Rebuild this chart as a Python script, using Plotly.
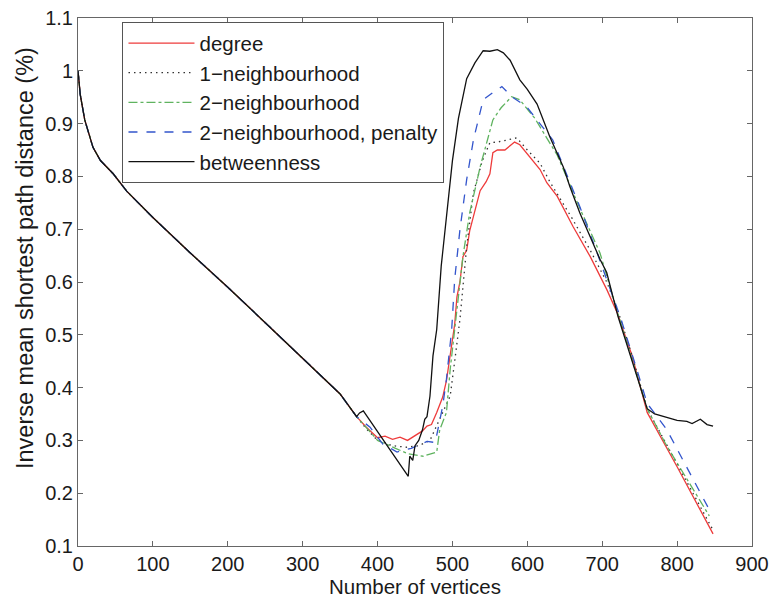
import plotly.graph_objects as go

# ---- data ----
deg_x = [0, 3, 9, 20, 30, 47, 65, 100, 150, 200, 250, 300, 330, 340, 350, 372, 385, 400, 410, 420, 430, 440, 452, 460, 466, 472, 479, 487, 492, 499, 503, 506, 510, 514, 519, 523, 530, 537, 545, 550, 554, 560, 570, 583, 590, 603, 617, 626, 640, 661, 684, 706, 720, 740, 760, 800, 848]
deg_y = [1.0, 0.955, 0.907, 0.855, 0.83, 0.805, 0.772, 0.722, 0.655, 0.59, 0.523, 0.455, 0.415, 0.402, 0.388, 0.345, 0.325, 0.305, 0.308, 0.302, 0.306, 0.300, 0.310, 0.318, 0.327, 0.330, 0.353, 0.382, 0.413, 0.478, 0.52, 0.572, 0.60, 0.648, 0.66, 0.697, 0.735, 0.773, 0.79, 0.805, 0.845, 0.85, 0.85, 0.865, 0.86, 0.837, 0.813, 0.788, 0.762, 0.705, 0.648, 0.586, 0.542, 0.46, 0.353, 0.25, 0.123]

n1_x = [0, 3, 9, 20, 30, 47, 65, 100, 150, 200, 250, 300, 330, 340, 350, 372, 385, 400, 420, 439, 455, 470, 480, 490, 497, 503, 510, 519, 528, 540, 550, 560, 575, 586, 600, 617, 630, 660, 684, 706, 720, 740, 760, 800, 848]
n1_y = [1.0, 0.955, 0.907, 0.855, 0.83, 0.805, 0.772, 0.722, 0.655, 0.59, 0.523, 0.455, 0.415, 0.402, 0.388, 0.345, 0.322, 0.300, 0.290, 0.287, 0.290, 0.300, 0.330, 0.360, 0.384, 0.45, 0.529, 0.667, 0.769, 0.830, 0.864, 0.865, 0.870, 0.873, 0.850, 0.825, 0.790, 0.720, 0.660, 0.600, 0.550, 0.460, 0.360, 0.255, 0.130]

n2_x = [0, 3, 9, 20, 30, 47, 65, 100, 150, 200, 250, 300, 330, 340, 350, 372, 385, 400, 424, 440, 461, 479, 483, 492, 497, 506, 514, 523, 537, 554, 565, 579, 590, 610, 640, 670, 697, 721, 740, 760, 786, 820, 843]
n2_y = [1.0, 0.955, 0.907, 0.855, 0.83, 0.805, 0.772, 0.722, 0.655, 0.59, 0.523, 0.455, 0.415, 0.402, 0.388, 0.345, 0.325, 0.300, 0.285, 0.275, 0.270, 0.278, 0.320, 0.353, 0.435, 0.554, 0.648, 0.731, 0.818, 0.907, 0.930, 0.951, 0.945, 0.910, 0.840, 0.740, 0.655, 0.540, 0.450, 0.360, 0.290, 0.210, 0.157]

n2p_x = [0, 3, 9, 20, 30, 47, 65, 100, 150, 200, 250, 300, 330, 340, 350, 372, 385, 390, 407, 426, 445, 466, 477, 487, 492, 499, 503, 510, 519, 528, 541, 555, 566, 580, 599, 617, 634, 657, 670, 693, 710, 725, 745, 760, 786, 821, 841]
n2p_y = [1.0, 0.955, 0.907, 0.855, 0.83, 0.805, 0.772, 0.722, 0.655, 0.59, 0.523, 0.455, 0.415, 0.402, 0.388, 0.345, 0.330, 0.325, 0.293, 0.278, 0.285, 0.298, 0.296, 0.365, 0.416, 0.510, 0.605, 0.699, 0.794, 0.869, 0.945, 0.960, 0.970, 0.950, 0.932, 0.900, 0.869, 0.788, 0.743, 0.656, 0.590, 0.530, 0.440, 0.370, 0.321, 0.227, 0.174]

btw_x = [0, 3, 9, 20, 30, 47, 65, 100, 150, 200, 250, 300, 330, 340, 350, 372, 376, 381, 400, 420, 441, 443, 447, 450, 455, 460, 463, 466, 470, 474, 479, 485, 492, 500, 508, 519, 530, 541, 550, 560, 568, 577, 590, 600, 613, 630, 648, 657, 670, 684, 697, 706, 721, 740, 760, 770, 786, 800, 813, 820, 831, 840, 848]
btw_y = [1.0, 0.955, 0.907, 0.855, 0.83, 0.805, 0.772, 0.722, 0.655, 0.59, 0.523, 0.455, 0.415, 0.402, 0.388, 0.345, 0.352, 0.356, 0.317, 0.275, 0.232, 0.270, 0.262, 0.290, 0.300, 0.320, 0.340, 0.345, 0.384, 0.460, 0.510, 0.630, 0.730, 0.830, 0.910, 0.985, 1.015, 1.038, 1.037, 1.040, 1.034, 1.020, 0.983, 0.965, 0.937, 0.875, 0.818, 0.780, 0.731, 0.686, 0.643, 0.618, 0.535, 0.450, 0.360, 0.350, 0.344, 0.338, 0.336, 0.332, 0.340, 0.330, 0.327]

names = ["degree", "1\u2212neighbourhood", "2\u2212neighbourhood", "2\u2212neighbourhood, penalty", "betweenness"]
x_title = "Number of vertices"
y_title = "Inverse mean shortest path distance (%)"

FONT = "Liberation Sans, Arial, sans-serif"
TXT = "#1a1a1a"

fig = go.Figure()
series = [
    (deg_x, deg_y, "#ee3b3b", "solid"),
    (n1_x, n1_y, "#333333", "1.5px,4px"),
    (n2_x, n2_y, "#5fb35f", "dashdot"),
    (n2p_x, n2p_y, "#3355cc", "dash"),
    (btw_x, btw_y, "#111111", "solid"),
]
for (xs, ys, col, dash), nm in zip(series, names):
    fig.add_trace(go.Scatter(x=xs, y=ys, mode="lines", name=nm,
                             line=dict(color=col, width=1.3, dash=dash)))

axis_common = dict(showgrid=False, zeroline=False, showline=True, linecolor="#666666",
                   linewidth=1, mirror="ticks", ticks="inside", ticklen=5,
                   tickcolor="#666666", automargin=False, ticklabeloverflow="allow",
                   tickfont=dict(family=FONT, size=20, color=TXT))

fig.update_xaxes(range=[0, 900], dtick=100, tick0=0,
                 title=dict(text=x_title, font=dict(family=FONT, size=20.5, color=TXT), standoff=5),
                 **axis_common)
fig.update_yaxes(range=[0.1, 1.1], dtick=0.1, tick0=0.1, **axis_common)

# y-axis title placed as a rotated annotation (slightly above plot centre, as in the reference)
fig.add_annotation(text=y_title, xref="paper", yref="paper", x=-0.079, y=0.545,
                   xanchor="center", yanchor="middle", textangle=-90, showarrow=False,
                   font=dict(family=FONT, size=23.5, color=TXT))

fig.update_layout(
    width=773, height=592,
    margin=dict(l=70, r=29, t=10, b=54, autoexpand=False),
    plot_bgcolor="white", paper_bgcolor="white",
    showlegend=True,
    legend=dict(x=0.066, y=0.992, xanchor="left", yanchor="top",
                bgcolor="white", bordercolor="#555555", borderwidth=1,
                font=dict(family=FONT, size=20.5, color=TXT),
                itemwidth=66, tracegroupgap=0),
)

fig.write_html("out.html")
